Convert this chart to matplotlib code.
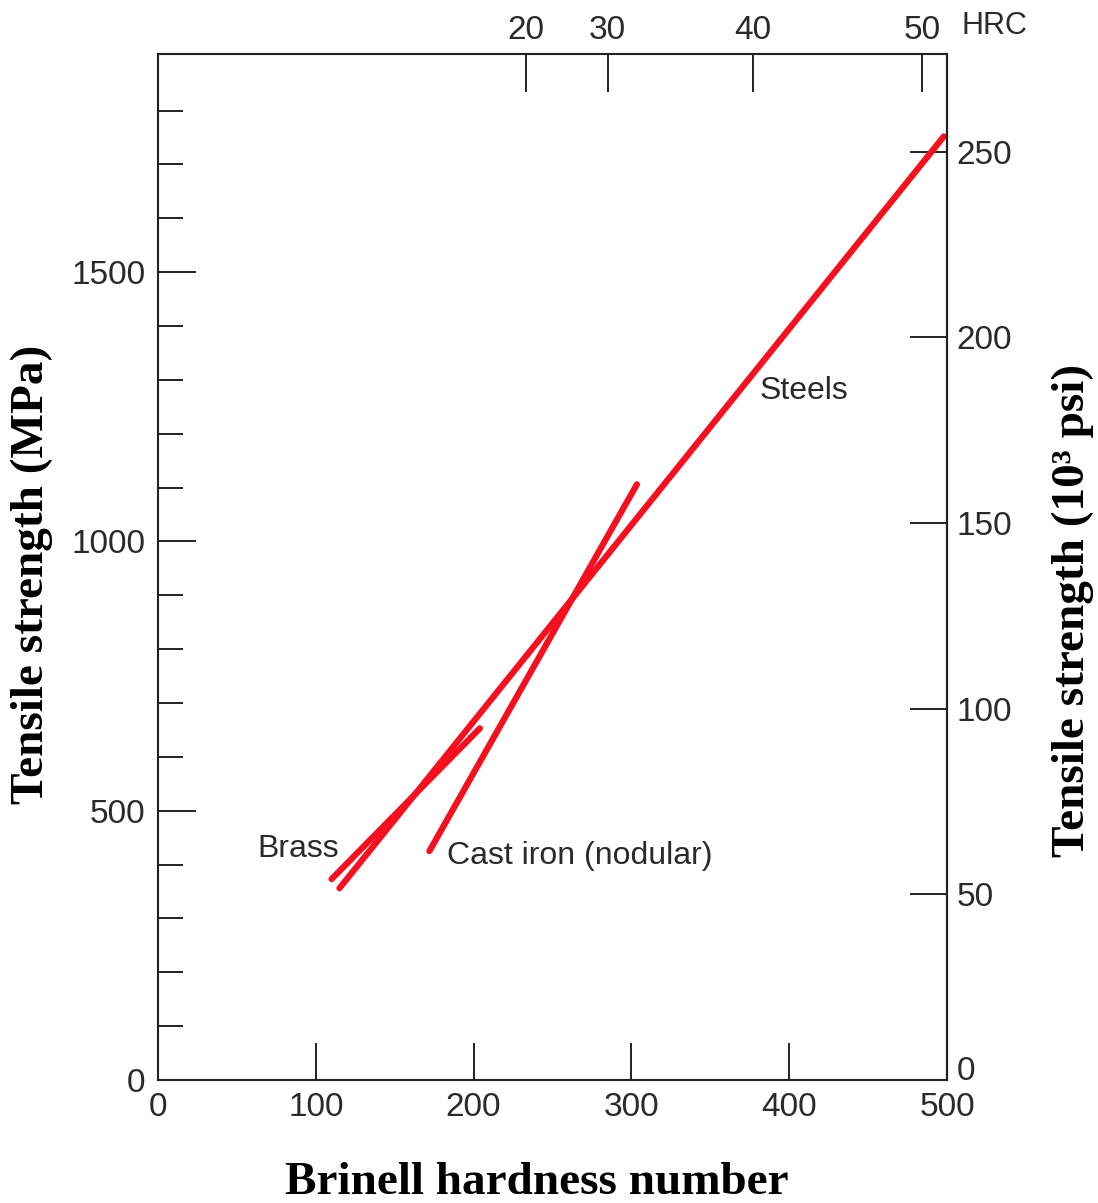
import matplotlib.pyplot as plt
import numpy as np
from matplotlib.ticker import MultipleLocator, FixedLocator

# ---- data ----
steel_hb = [115, 498]
steel_mpa = [356, 1752]
brass_hb = [110, 204]
brass_mpa = [373, 653]
castiron_hb = [172, 303.5]
castiron_mpa = [425, 1106]

hrc_values = [20, 30, 40, 50]
hrc_brinell = [233, 285, 377, 484]

mpa_major = [0, 500, 1000, 1500]
mpa_minor = [100, 200, 300, 400, 600, 700, 800, 900, 1100, 1200, 1300, 1400, 1600, 1700, 1800]
ksi_ticks = [0, 50, 100, 150, 200, 250]
hb_ticks = [0, 100, 200, 300, 400, 500]

MPA_PER_KSI = 6.895

tick_font = 'Liberation Sans'
label_font = 'Liberation Serif'
tick_color = '#2a2a2a'
red = '#f5101f'

fig = plt.figure(figsize=(10.98, 12.03), dpi=100)
ax = fig.add_axes([158 / 1098, 1 - 1080 / 1203, (947 - 158) / 1098, (1080 - 54) / 1203])

ax.set_xlim(0, 500)
ax.set_ylim(0, 1905)

for xs, ys in [(steel_hb, steel_mpa), (brass_hb, brass_mpa), (castiron_hb, castiron_mpa)]:
    ax.plot(xs, ys, color=red, linewidth=4.5, solid_capstyle='round')

# annotations
txt = dict(fontfamily=tick_font, fontsize=23, color=tick_color, va='center', ha='left')
ax.text(63, 429, 'Brass', **txt)
ax.text(183, 416, 'Cast iron (nodular)', **txt)
ax.text(381, 1279, 'Steels', **txt)

# frame
for sp in ax.spines.values():
    sp.set_linewidth(1.5)
    sp.set_color('#222222')

# bottom / left axes
ax.xaxis.set_major_locator(FixedLocator(hb_ticks))
ax.yaxis.set_major_locator(FixedLocator(mpa_major))
ax.yaxis.set_minor_locator(FixedLocator(mpa_minor))
ax.tick_params(axis='both', which='major', direction='in', length=27, width=1.4,
               color='#222222', labelsize=24, labelcolor=tick_color, pad=9)
ax.tick_params(axis='y', which='minor', direction='in', length=18, width=1.4, color='#222222')
ax.tick_params(axis='x', which='both', top=False)
for lab in ax.get_xticklabels() + ax.get_yticklabels():
    lab.set_fontfamily(tick_font)

# right axis in ksi
ax_r = ax.secondary_yaxis('right', functions=(lambda m: m / MPA_PER_KSI, lambda k: k * MPA_PER_KSI))
ax_r.yaxis.set_major_locator(FixedLocator(ksi_ticks))
ax_r.tick_params(axis='y', which='major', direction='in', length=27, width=1.4,
                 color='#222222', labelsize=24, labelcolor=tick_color, pad=7)
ax_r.tick_params(axis='y', which='minor', length=0)
ax_r.spines['right'].set_linewidth(1.5)

# top axis: Rockwell C hardness
ax_t = ax.twiny()
ax_t.set_xlim(ax.get_xlim())
ax_t.xaxis.set_major_locator(FixedLocator(hrc_brinell))
ax_t.set_xticklabels([str(v) for v in hrc_values])
ax_t.tick_params(axis='x', which='major', direction='in', length=27, width=1.4,
                 color='#222222', labelsize=24, labelcolor=tick_color, pad=6)
for sp in ax_t.spines.values():
    sp.set_visible(False)
for lab in ax_t.get_xticklabels():
    lab.set_fontfamily(tick_font)
ax_t.text(1.018, 1.013, 'HRC', transform=ax.transAxes, fontfamily=tick_font, fontsize=22,
          color=tick_color, ha='left', va='bottom')

# axis titles
lab = dict(fontfamily=label_font, fontweight='bold', fontsize=34, color='black')
fig.text(537 / 1098, 1 - 1183 / 1203, 'Brinell hardness number', ha='center', va='center', **lab)
fig.text(32 / 1098, 1 - 574 / 1203, 'Tensile strength (MPa)', rotation=90, ha='center', va='center', **lab)
fig.text(1073 / 1098, 1 - 610 / 1203, 'Tensile strength (10\u00b3 psi)', rotation=90,
         ha='center', va='center', **lab)

fig.canvas.draw()
rlabels = ax_r.get_yticklabels()
for t in rlabels:
    t.set_fontfamily(tick_font)
rlabels[0].set_verticalalignment('baseline')

fig.savefig('out.png', dpi=100)
